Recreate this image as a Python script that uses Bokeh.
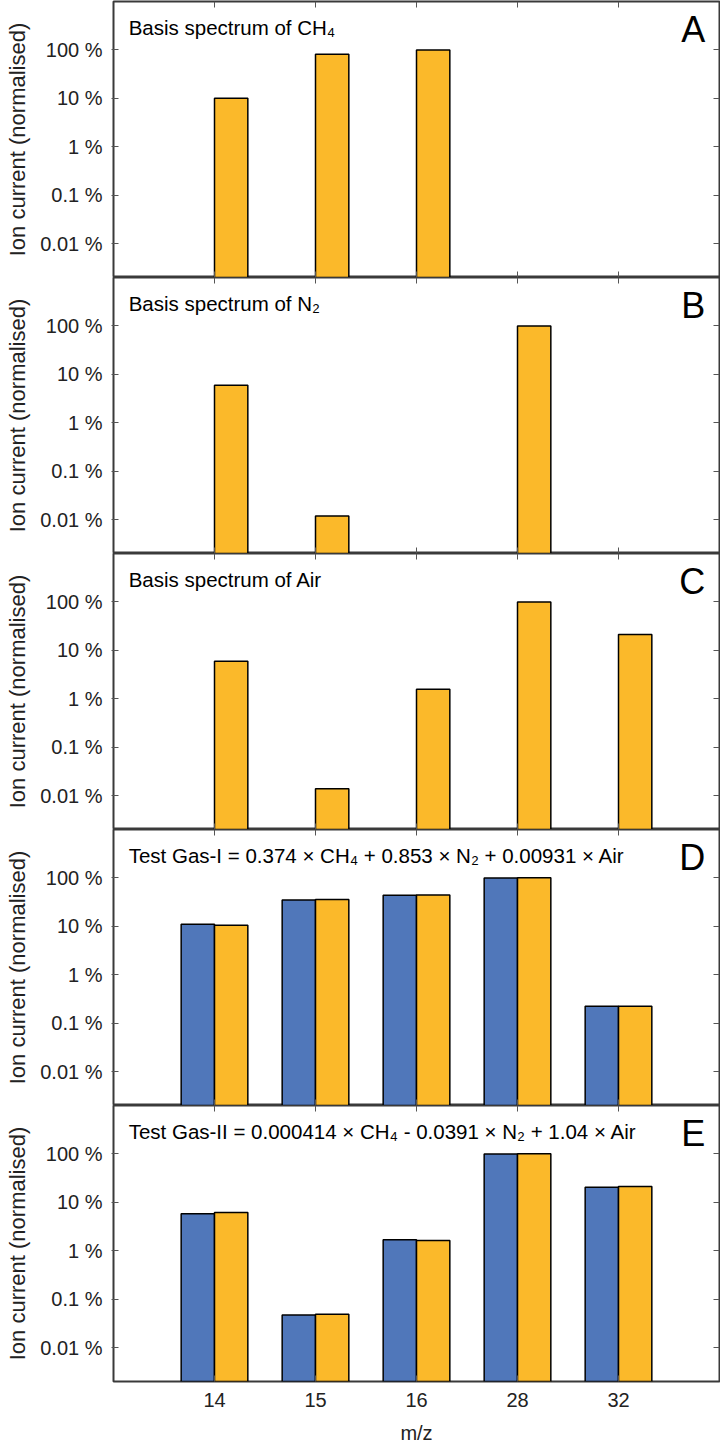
from bokeh.plotting import figure
from bokeh.layouts import column
from bokeh.models import (Range1d, FixedTicker, LinearAxis, LogAxis, Label,
                          ColumnDataSource)
from bokeh.transform import dodge
from bokeh.embed import file_html
from bokeh.resources import INLINE

# ---------------- data ----------------
mz_labels = ["14", "15", "16", "28", "32"]
y_ticks = [0.01, 0.1, 1, 10, 100]
y_tick_labels = ["0.01 %", "0.1 %", "1 %", "10 %", "100 %"]

ch4_basis = [10.1, 81.5, 100.0, None, None]
n2_basis = [5.95, 0.0119, None, 100.0, None]
air_basis = [5.95, 0.0139, 1.58, 100.0, 21.2]
gas1_measured = [11.1, 35.2, 44.0, 100.0, 0.225]
gas1_fit = [10.5, 35.7, 44.3, 101.0, 0.225]
gas2_measured = [5.8, 0.0475, 1.70, 100.0, 20.4]
gas2_fit = [6.15, 0.049, 1.64, 101.4, 21.3]

panel_titles = [
    "Basis spectrum of CH\u2084",
    "Basis spectrum of N\u2082",
    "Basis spectrum of Air",
    "Test Gas-I = 0.374 \u00d7 CH\u2084 + 0.853 \u00d7 N\u2082 + 0.00931 \u00d7 Air",
    "Test Gas-II = 0.000414 \u00d7 CH\u2084 - 0.0391 \u00d7 N\u2082 + 1.04 \u00d7 Air",
]
panel_letters = ["A", "B", "C", "D", "E"]
x_label = "m/z"
y_label = "Ion current (normalised)"

# ---------------- style ----------------
ORANGE = "#FBB92A"
BLUE = "#5077BA"
FONT = "Liberation Sans"
EDGE = "#3a3a3a"
TICK = "#555555"
Y_START, Y_END = 0.002, 1000
X_START, X_END = 0, 6
FRAME_H = 276
FRAME_W = 606
BAR_W = 0.33

x_pos = [i + 1 for i in range(len(mz_labels))]


def add_bars(p, values, offset, color):
    src = ColumnDataSource(dict(
        x=[x for x, v in zip(x_pos, values) if v is not None],
        top=[v for v in values if v is not None],
    ))
    p.vbar(x=dodge("x", offset, range=p.x_range), top="top", bottom=Y_START,
           width=BAR_W, source=src, fill_color=color, line_color="black",
           line_width=1.5)


def make_panel(idx, series, last=False):
    p = figure(frame_width=FRAME_W, frame_height=FRAME_H,
               x_range=Range1d(X_START, X_END), y_range=Range1d(Y_START, Y_END),
               y_axis_type="log", x_axis_location=None,
               output_backend="svg", toolbar_location=None,
               min_border=0, min_border_left=113, min_border_right=1,
               min_border_top=1 if idx == 0 else 0, min_border_bottom=0)
    p.grid.visible = False
    p.outline_line_color = EDGE
    p.outline_line_width = 2
    p.background_fill_color = "white"
    p.border_fill_color = "white"

    # left axis
    ya = p.yaxis[0]
    ya.ticker = FixedTicker(ticks=y_ticks)
    ya.major_label_overrides = dict(zip(y_ticks, y_tick_labels))
    ya.major_label_text_font = FONT
    ya.major_label_text_font_size = "20px"
    ya.major_label_text_color = "#222222"
    ya.major_label_standoff = 9
    ya.major_tick_in = 5
    ya.major_tick_out = 2
    ya.major_tick_line_color = TICK
    ya.minor_tick_line_color = None
    ya.axis_line_color = None
    ya.axis_label = y_label
    ya.axis_label_text_font = FONT
    ya.axis_label_text_font_size = "22px"
    ya.axis_label_text_font_style = "normal"
    ya.axis_label_text_color = "#222222"
    ya.axis_label_standoff = 7

    # right axis (ticks only)
    ra = LogAxis(fixed_location=X_END, ticker=FixedTicker(ticks=y_ticks),
                 major_label_overrides={t: "" for t in y_ticks},
                 major_tick_in=6, major_tick_out=0, major_tick_line_color=TICK,
                 minor_tick_line_color=None, axis_line_color=None)
    p.add_layout(ra, "right")

    # top axis (ticks only)
    ta = LinearAxis(fixed_location=Y_END, ticker=FixedTicker(ticks=x_pos),
                    major_label_overrides={t: "" for t in x_pos},
                    major_tick_in=6, major_tick_out=0, major_tick_line_color=TICK,
                    minor_tick_line_color=None, axis_line_color=None)
    p.add_layout(ta, "above")

    # bottom axis
    if last:
        ba = LinearAxis(ticker=FixedTicker(ticks=x_pos),
                        major_label_overrides=dict(zip(x_pos, mz_labels)),
                        major_tick_in=6, major_tick_out=0,
                        major_tick_line_color=TICK, minor_tick_line_color=None,
                        axis_line_color=None,
                        major_label_text_font=FONT,
                        major_label_text_font_size="20px",
                        major_label_text_color="#222222",
                        major_label_standoff=11,
                        axis_label=x_label, axis_label_text_font=FONT,
                        axis_label_text_font_size="20px",
                        axis_label_text_font_style="normal",
                        axis_label_text_color="#222222",
                        axis_label_standoff=12)
    else:
        ba = LinearAxis(fixed_location=Y_START, ticker=FixedTicker(ticks=x_pos),
                        major_label_overrides={t: "" for t in x_pos},
                        major_tick_in=6, major_tick_out=0,
                        major_tick_line_color=TICK, minor_tick_line_color=None,
                        axis_line_color=None)
    p.add_layout(ba, "below")

    for values, offset, color in series:
        add_bars(p, values, offset, color)

    p.add_layout(Label(x=0.15, y=290, text=panel_titles[idx], text_font=FONT,
                       text_font_size="20.5px", text_baseline="middle",
                       text_color="black"))
    p.add_layout(Label(x=5.86, y=258, text=panel_letters[idx], text_font=FONT,
                       text_font_size="36px", text_baseline="middle",
                       text_align="right", text_color="black"))
    return p


half = BAR_W / 2
panels = [
    make_panel(0, [(ch4_basis, half, ORANGE)]),
    make_panel(1, [(n2_basis, half, ORANGE)]),
    make_panel(2, [(air_basis, half, ORANGE)]),
    make_panel(3, [(gas1_measured, -half, BLUE), (gas1_fit, half, ORANGE)]),
    make_panel(4, [(gas2_measured, -half, BLUE), (gas2_fit, half, ORANGE)], last=True),
]

layout = column(*panels, spacing=0)
open("out.html", "w").write(file_html(layout, INLINE))
